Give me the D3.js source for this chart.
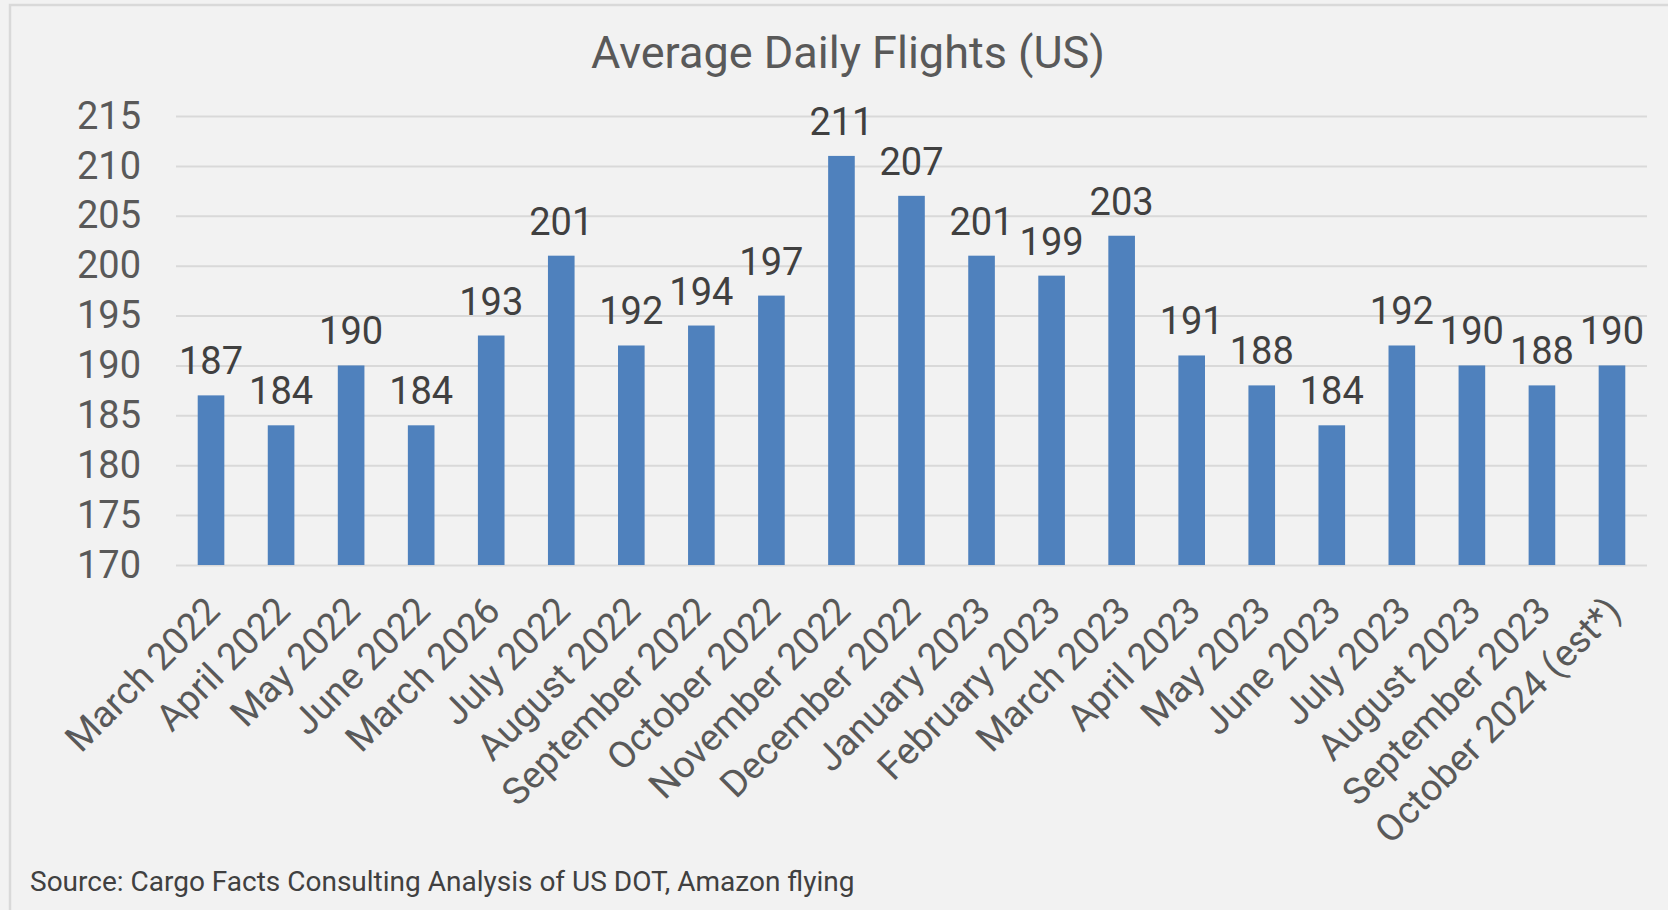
<!DOCTYPE html>
<html>
<head>
<meta charset="utf-8">
<script src="https://cdn.jsdelivr.net/npm/d3@7/dist/d3.min.js"></script>
<style>
  html, body { margin: 0; padding: 0; background: #f2f2f2; }
  svg { display: block; }
  text { font-family: Roboto, "Open Sans", sans-serif; }
</style>
</head>
<body>
<svg id="chart" width="1668" height="910"></svg>
<script>
const categories = ["March 2022", "April 2022", "May 2022", "June 2022", "March 2026", "July 2022",
  "August 2022", "September 2022", "October 2022", "November 2022", "December 2022", "January 2023",
  "February 2023", "March 2023", "April 2023", "May 2023", "June 2023", "July 2023", "August 2023",
  "September 2023", "October 2024 (est*)"];
const values = [187, 184, 190, 184, 193, 201, 192, 194, 197, 211, 207, 201, 199, 203, 191, 188, 184, 192, 190, 188, 190];
const yTicks = [170, 175, 180, 185, 190, 195, 200, 205, 210, 215];
const titleText = "Average Daily Flights (US)";
const sourceText = "Source: Cargo Facts Consulting Analysis of US DOT, Amazon flying";

const W = 1668, H = 910;
const svg = d3.select("#chart");

svg.append("rect").attr("x", 0).attr("y", 0).attr("width", W).attr("height", H).attr("fill", "#f2f2f2");
svg.append("rect").attr("x", 10).attr("y", 5).attr("width", W + 20).attr("height", H + 20)
  .attr("fill", "#f2f2f2").attr("stroke", "#d9d9d9").attr("stroke-width", 2.5);

const plot = { left: 176, right: 1647, top: 116, bottom: 565 };

const x = d3.scaleBand().domain(categories).range([plot.left, plot.right]).paddingInner(0.62).paddingOuter(0.31);
const y = d3.scaleLinear().domain([170, 215]).range([plot.bottom, plot.top]);

// gridlines
const grid = d3.axisLeft(y).tickValues(yTicks).tickSize(-(plot.right - plot.left)).tickFormat("");
const gg = svg.append("g").attr("transform", `translate(${plot.left},0)`).call(grid);
gg.select(".domain").remove();
gg.selectAll("line").attr("stroke", "#d9d9d9").attr("stroke-width", 2);

// y axis labels
const yAxis = d3.axisLeft(y).tickValues(yTicks).tickSize(0).tickPadding(0);
const ya = svg.append("g").attr("transform", `translate(141,0)`).call(yAxis);
ya.select(".domain").remove();
ya.selectAll("text").attr("fill", "#595959").attr("font-size", 38).attr("font-family", "Roboto");

// bars
svg.append("g").selectAll("rect").data(values).join("rect")
  .attr("x", (d, i) => x(categories[i]))
  .attr("width", x.bandwidth())
  .attr("y", d => y(d))
  .attr("height", d => y(170) - y(d))
  .attr("fill", "#4f81bd");

// data labels
svg.append("g").selectAll("text").data(values).join("text")
  .attr("x", (d, i) => x(categories[i]) + x.bandwidth() / 2)
  .attr("y", d => y(d) - 21)
  .attr("text-anchor", "middle")
  .attr("fill", "#404040")
  .attr("font-size", 38)
  .text(d => d);

// x axis labels
const xAxis = d3.axisBottom(x).tickSize(0).tickPadding(0);
const xa = svg.append("g").attr("transform", `translate(0,${plot.bottom})`).call(xAxis);
xa.select(".domain").remove();
xa.selectAll("text")
  .attr("fill", "#595959")
  .attr("font-size", 37.5)
  .attr("text-anchor", "end")
  .attr("dy", null)
  .attr("y", 0)
  .attr("transform", "translate(11,48) rotate(-45)");

// title
svg.append("text").attr("x", 848).attr("y", 68).attr("text-anchor", "middle")
  .attr("fill", "#595959").attr("font-size", 45).text(titleText);

// source
svg.append("text").attr("x", 30).attr("y", 891)
  .attr("fill", "#404040").attr("font-size", 28).text(sourceText);
</script>
</body>
</html>
